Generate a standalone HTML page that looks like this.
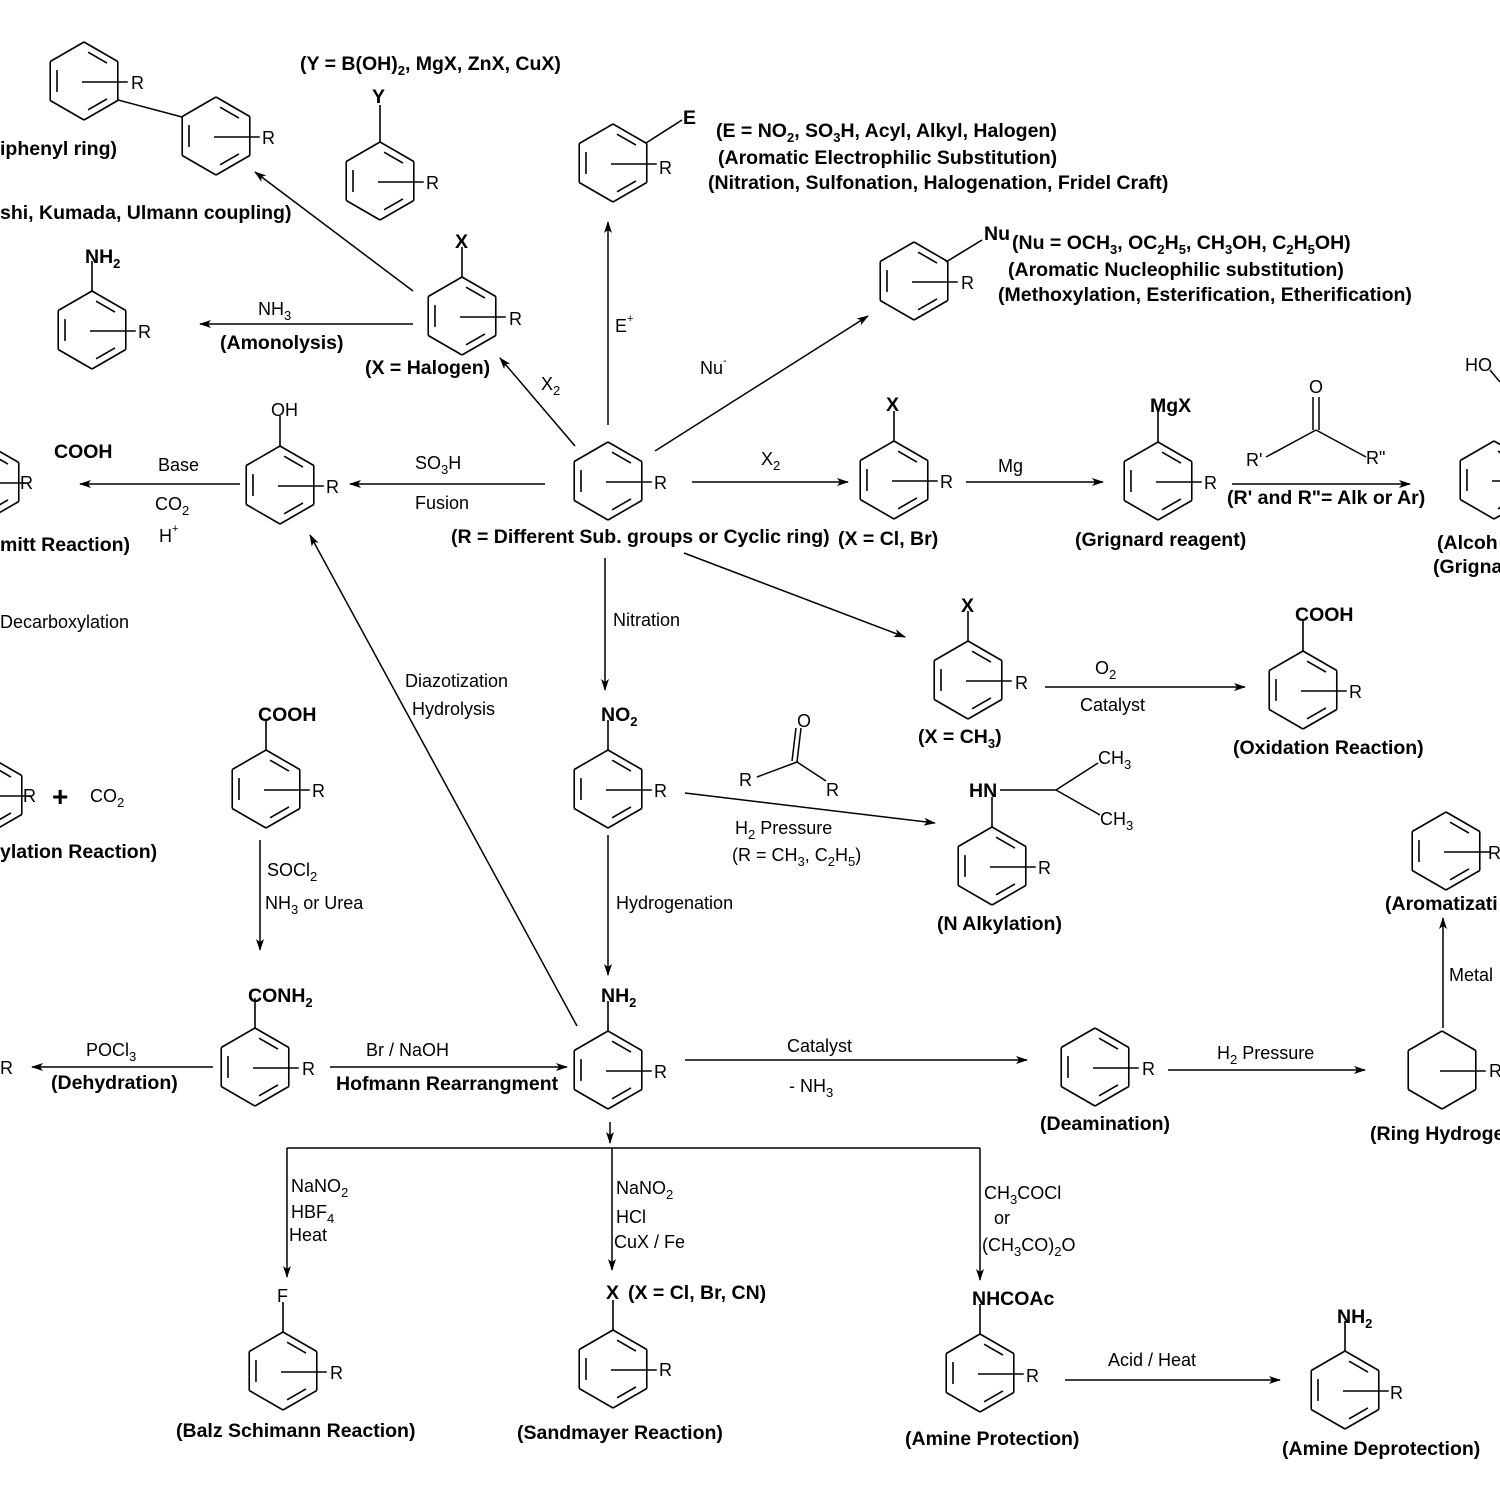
<!DOCTYPE html>
<html><head><meta charset="utf-8">
<style>
html,body{margin:0;padding:0;background:#fff;}
svg{display:block;font-family:"Liberation Sans",Arial,sans-serif;}
text{font-size:18px;fill:#000;}
.b{font-weight:bold;font-size:19.5px;}
</style></head>
<body>
<svg id="s" width="1500" height="1500" viewBox="0 0 1500 1500" xmlns="http://www.w3.org/2000/svg">
<defs>
<marker id="ah" viewBox="0 0 12 8" refX="11" refY="4" markerWidth="12" markerHeight="8" markerUnits="userSpaceOnUse" orient="auto">
<path d="M0,0 L12,4 L0,8 L3,4 z" fill="#000"/>
</marker>
</defs>
<g id="rings" stroke="#000" stroke-width="1.6" fill="none"></g>
<g id="arrows" stroke="#000" stroke-width="1.5" fill="none" marker-end="url(#ah)">
<line x1="413" y1="291" x2="255" y2="172"/>
<line x1="413" y1="324" x2="200" y2="324"/>
<line x1="575" y1="446" x2="500" y2="358"/>
<line x1="608" y1="425" x2="608" y2="222"/>
<line x1="655" y1="451" x2="868" y2="316"/>
<line x1="545" y1="484" x2="350" y2="484"/>
<line x1="240" y1="484" x2="80" y2="484"/>
<line x1="692" y1="482" x2="848" y2="482"/>
<line x1="966" y1="482" x2="1103" y2="482"/>
<line x1="1232" y1="484" x2="1410" y2="484"/>
<line x1="684" y1="553" x2="905" y2="637"/>
<line x1="1045" y1="687" x2="1245" y2="687"/>
<line x1="605" y1="558" x2="605" y2="690"/>
<line x1="685" y1="793" x2="935" y2="823"/>
<line x1="608" y1="835" x2="608" y2="975"/>
<line x1="577" y1="1026" x2="310" y2="535"/>
<line x1="260" y1="840" x2="260" y2="950"/>
<line x1="213" y1="1067" x2="32" y2="1067"/>
<line x1="330" y1="1067" x2="567" y2="1067"/>
<line x1="685" y1="1060" x2="1027" y2="1060"/>
<line x1="1168" y1="1070" x2="1365" y2="1070"/>
<line x1="1443" y1="1028" x2="1443" y2="918"/>
<line x1="610" y1="1122" x2="610" y2="1143"/>
<line x1="287" y1="1148" x2="287" y2="1277"/>
<line x1="612" y1="1148" x2="612" y2="1270"/>
<line x1="980" y1="1148" x2="980" y2="1280"/>
<line x1="1065" y1="1380" x2="1280" y2="1380"/>
</g>
<g stroke="#000" stroke-width="1.5" fill="none">
<line x1="287" y1="1148" x2="980" y2="1148"/>
<line x1="118" y1="100" x2="182" y2="117"/>
<line x1="757" y1="777" x2="797" y2="762"/>
<line x1="797" y1="762" x2="826" y2="781"/>
<line x1="797" y1="762" x2="801" y2="728"/>
<line x1="792" y1="761" x2="796" y2="728"/>
<line x1="1266" y1="457" x2="1316" y2="430"/>
<line x1="1316" y1="430" x2="1366" y2="457"/>
<line x1="1313" y1="430" x2="1313" y2="397"/>
<line x1="1319" y1="430" x2="1319" y2="397"/>
<line x1="1000" y1="790" x2="1056" y2="790"/>
<line x1="1056" y1="790" x2="1098" y2="763"/>
<line x1="1056" y1="790" x2="1100" y2="815"/>
<line x1="1490" y1="370" x2="1500" y2="382"/>
</g>
<g>
<text x="300" y="70" class="b">(Y = B(OH)<tspan dy="5" font-size="13">2</tspan><tspan dy="-5">, MgX, ZnX, CuX)</tspan></text>
<text x="372" y="103" class="b">Y</text>
<text x="131" y="89">R</text>
<text x="262" y="144">R</text>
<text x="426" y="189">R</text>
<text x="0" y="155" class="b">iphenyl ring)</text>
<text x="0" y="219" class="b">shi, Kumada, Ulmann coupling)</text>
<text x="683" y="124" class="b">E</text>
<text x="659" y="174">R</text>
<text x="716" y="137" class="b">(E = NO<tspan dy="5" font-size="13">2</tspan><tspan dy="-5">, SO</tspan><tspan dy="5" font-size="13">3</tspan><tspan dy="-5">H, Acyl, Alkyl, Halogen)</tspan></text>
<text x="718" y="164" class="b">(Aromatic Electrophilic Substitution)</text>
<text x="708" y="189" class="b">(Nitration, Sulfonation, Halogenation, Fridel Craft)</text>
<text x="984" y="240" class="b">Nu</text>
<text x="961" y="289">R</text>
<text x="1012" y="249" class="b">(Nu = OCH<tspan dy="5" font-size="13">3</tspan><tspan dy="-5">, OC</tspan><tspan dy="5" font-size="13">2</tspan><tspan dy="-5">H</tspan><tspan dy="5" font-size="13">5</tspan><tspan dy="-5">, CH</tspan><tspan dy="5" font-size="13">3</tspan><tspan dy="-5">OH, C</tspan><tspan dy="5" font-size="13">2</tspan><tspan dy="-5">H</tspan><tspan dy="5" font-size="13">5</tspan><tspan dy="-5">OH)</tspan></text>
<text x="1008" y="276" class="b">(Aromatic Nucleophilic substitution)</text>
<text x="998" y="301" class="b">(Methoxylation, Esterification, Etherification)</text>
<text x="85" y="263" class="b">NH<tspan dy="5" font-size="13">2</tspan></text>
<text x="138" y="338">R</text>
<text x="258" y="315">NH<tspan dy="5" font-size="13">3</tspan></text>
<text x="220" y="349" class="b">(Amonolysis)</text>
<text x="455" y="248" class="b">X</text>
<text x="509" y="325">R</text>
<text x="365" y="374" class="b">(X = Halogen)</text>
<text x="541" y="390">X<tspan dy="5" font-size="13">2</tspan></text>
<text x="615" y="332">E<tspan dy="-10" font-size="11">+</tspan></text>
<text x="700" y="374">Nu<tspan dy="-10" font-size="11">-</tspan></text>
<text x="271" y="416">OH</text>
<text x="326" y="493">R</text>
<text x="54" y="458" class="b">COOH</text>
<text x="20" y="489">R</text>
<text x="158" y="471">Base</text>
<text x="155" y="510">CO<tspan dy="5" font-size="13">2</tspan></text>
<text x="159" y="542">H<tspan dy="-10" font-size="11">+</tspan></text>
<text x="0" y="551" class="b">mitt Reaction)</text>
<text x="415" y="469">SO<tspan dy="5" font-size="13">3</tspan><tspan dy="-5">H</tspan></text>
<text x="415" y="509">Fusion</text>
<text x="654" y="489">R</text>
<text x="451" y="543" class="b">(R = Different Sub. groups or Cyclic ring)</text>
<text x="838" y="545" class="b">(X = Cl, Br)</text>
<text x="761" y="465">X<tspan dy="5" font-size="13">2</tspan></text>
<text x="886" y="411" class="b">X</text>
<text x="940" y="488">R</text>
<text x="998" y="472">Mg</text>
<text x="1150" y="412" class="b">MgX</text>
<text x="1204" y="489">R</text>
<text x="1075" y="546" class="b">(Grignard reagent)</text>
<text x="1309" y="393">O</text>
<text x="1246" y="466">R'</text>
<text x="1366" y="464">R"</text>
<text x="1227" y="504" class="b">(R' and R"= Alk or Ar)</text>
<text x="1465" y="371">HO</text>
<text x="1437" y="549" class="b">(Alcoh</text>
<text x="1433" y="573" class="b">(Grigna</text>
<text x="0" y="628">Decarboxylation</text>
<text x="613" y="626">Nitration</text>
<text x="961" y="612" class="b">X</text>
<text x="1015" y="689">R</text>
<text x="918" y="743" class="b">(X = CH<tspan dy="5" font-size="13">3</tspan><tspan dy="-5">)</tspan></text>
<text x="1095" y="674">O<tspan dy="5" font-size="13">2</tspan></text>
<text x="1080" y="711">Catalyst</text>
<text x="1295" y="621" class="b">COOH</text>
<text x="1349" y="698">R</text>
<text x="1233" y="754" class="b">(Oxidation Reaction)</text>
<text x="405" y="687">Diazotization</text>
<text x="412" y="715">Hydrolysis</text>
<text x="258" y="721" class="b">COOH</text>
<text x="312" y="797">R</text>
<text x="601" y="721" class="b">NO<tspan dy="5" font-size="13">2</tspan></text>
<text x="654" y="797">R</text>
<text x="797" y="727">O</text>
<text x="739" y="786">R</text>
<text x="826" y="796">R</text>
<text x="735" y="834">H<tspan dy="5" font-size="13">2</tspan><tspan dy="-5"> Pressure</tspan></text>
<text x="732" y="861">(R = CH<tspan dy="5" font-size="13">3</tspan><tspan dy="-5">, C</tspan><tspan dy="5" font-size="13">2</tspan><tspan dy="-5">H</tspan><tspan dy="5" font-size="13">5</tspan><tspan dy="-5">)</tspan></text>
<text x="969" y="797" class="b">HN</text>
<text x="1098" y="764">CH<tspan dy="5" font-size="13">3</tspan></text>
<text x="1100" y="825">CH<tspan dy="5" font-size="13">3</tspan></text>
<text x="1038" y="874">R</text>
<text x="937" y="930" class="b">(N Alkylation)</text>
<text x="23" y="802">R</text>
<text x="52" y="806" style="font-size:28px;font-weight:bold">+</text>
<text x="90" y="802">CO<tspan dy="5" font-size="13">2</tspan></text>
<text x="0" y="858" class="b">ylation Reaction)</text>
<text x="267" y="876">SOCl<tspan dy="5" font-size="13">2</tspan></text>
<text x="265" y="909">NH<tspan dy="5" font-size="13">3</tspan><tspan dy="-5"> or Urea</tspan></text>
<text x="616" y="909">Hydrogenation</text>
<text x="1488" y="859">R</text>
<text x="1385" y="910" class="b">(Aromatizati</text>
<text x="1449" y="981">Metal</text>
<text x="248" y="1002" class="b">CONH<tspan dy="5" font-size="13">2</tspan></text>
<text x="601" y="1002" class="b">NH<tspan dy="5" font-size="13">2</tspan></text>
<text x="302" y="1075">R</text>
<text x="654" y="1078">R</text>
<text x="0" y="1074">R</text>
<text x="86" y="1056">POCl<tspan dy="5" font-size="13">3</tspan></text>
<text x="51" y="1089" class="b">(Dehydration)</text>
<text x="366" y="1056">Br / NaOH</text>
<text x="336" y="1090" class="b">Hofmann Rearrangment</text>
<text x="787" y="1052">Catalyst</text>
<text x="789" y="1092">- NH<tspan dy="5" font-size="13">3</tspan></text>
<text x="1142" y="1075">R</text>
<text x="1040" y="1130" class="b">(Deamination)</text>
<text x="1217" y="1059">H<tspan dy="5" font-size="13">2</tspan><tspan dy="-5"> Pressure</tspan></text>
<text x="1489" y="1077">R</text>
<text x="1370" y="1140" class="b">(Ring Hydroge</text>
<text x="291" y="1192">NaNO<tspan dy="5" font-size="13">2</tspan></text>
<text x="291" y="1218">HBF<tspan dy="5" font-size="13">4</tspan></text>
<text x="289" y="1241">Heat</text>
<text x="616" y="1194">NaNO<tspan dy="5" font-size="13">2</tspan></text>
<text x="616" y="1223">HCl</text>
<text x="614" y="1248">CuX / Fe</text>
<text x="984" y="1199">CH<tspan dy="5" font-size="13">3</tspan><tspan dy="-5">COCl</tspan></text>
<text x="994" y="1224">or</text>
<text x="982" y="1251">(CH<tspan dy="5" font-size="13">3</tspan><tspan dy="-5">CO)</tspan><tspan dy="5" font-size="13">2</tspan><tspan dy="-5">O</tspan></text>
<text x="277" y="1302">F</text>
<text x="330" y="1379">R</text>
<text x="176" y="1437" class="b">(Balz Schimann Reaction)</text>
<text x="606" y="1299" class="b">X</text>
<text x="628" y="1299" class="b">(X = Cl, Br, CN)</text>
<text x="659" y="1376">R</text>
<text x="517" y="1439" class="b">(Sandmayer Reaction)</text>
<text x="972" y="1305" class="b">NHCOAc</text>
<text x="1026" y="1382">R</text>
<text x="905" y="1445" class="b">(Amine Protection)</text>
<text x="1108" y="1366">Acid / Heat</text>
<text x="1337" y="1323" class="b">NH<tspan dy="5" font-size="13">2</tspan></text>
<text x="1390" y="1399">R</text>
<text x="1282" y="1455" class="b">(Amine Deprotection)</text>
</g>
</svg>
<script>
var R=39,g=document.getElementById('rings'),NS='http://www.w3.org/2000/svg';
function ln(a,b,c,d){var l=document.createElementNS(NS,'line');l.setAttribute('x1',a);l.setAttribute('y1',b);l.setAttribute('x2',c);l.setAttribute('y2',d);g.appendChild(l);}
var rs=[[84,81,0,1,1],[216,136,0,1,1],[380,181,37,1,1],[613,163,0,1,1],[914,281,0,1,1],[92,330,30,1,1],[462,316,30,1,1],
[280,485,30,1,1],[-15,482,0,1,1],[608,481,0,1,1],[894,480,30,1,1],[1158,481,30,1,1],[1494,480,0,1,1],[968,680,30,1,1],
[1303,690,30,1,1],[608,789,30,1,1],[266,789,30,1,1],[992,866,30,1,1],[1446,851,0,1,1],[-12,795,0,1,1],[255,1067,30,1,1],
[608,1070,30,1,1],[1095,1067,0,1,1],[1442,1070,0,1,0],[283,1371,30,1,1],[613,1369,30,1,1],[980,1373,30,1,1],[1345,1390,30,1,1]];
rs.forEach(function(r){var cx=r[0],cy=r[1],v=[];for(var i=0;i<6;i++){var a=(-90+60*i)*Math.PI/180;v.push([cx+R*Math.cos(a),cy+R*Math.sin(a)]);}
for(var i=0;i<6;i++){var p=v[i],q=v[(i+1)%6];ln(p[0],p[1],q[0],q[1]);}
if(r[4]){[[0,1],[2,3],[4,5]].forEach(function(e){var p=v[e[0]],q=v[e[1]],k=0.8,s=0.15;
var px=cx+(p[0]-cx)*k,py=cy+(p[1]-cy)*k,qx=cx+(q[0]-cx)*k,qy=cy+(q[1]-cy)*k;
ln(px+(qx-px)*s,py+(qy-py)*s,qx-(qx-px)*s,qy-(qy-py)*s);});}
if(r[2])ln(cx,cy-R,cx,cy-R-r[2]);
if(r[3])ln(cx-2,cy+1,cx+R*0.866+10,cy+1);
});
ln(646,143,682,120);ln(946,262,982,240);
</script>
</body></html>
